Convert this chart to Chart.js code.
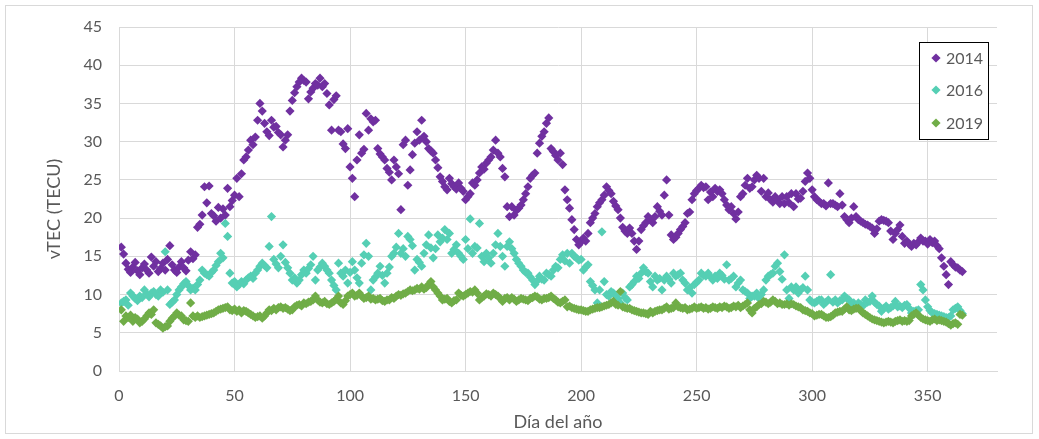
<!DOCTYPE html>
<html>
<head>
<meta charset="utf-8">
<script src="https://cdn.jsdelivr.net/npm/chart.js@4"></script>
<style>
html,body{margin:0;padding:0;background:#fff;}
#wrap{width:1039px;height:439px;}
</style>
</head>
<body>
<div id="wrap"><canvas id="c" width="1039" height="439"></canvas></div>
<script>
const seriesNames = ["2014", "2016", "2019"];
const seriesColors = ["#7030A0", "#55CFB4", "#70AD47"];
const xTicks = [0, 50, 100, 150, 200, 250, 300, 350];
const yTicks = [0, 5, 10, 15, 20, 25, 30, 35, 40, 45];
const xTitle = "Día del año";
const yTitle = "vTEC (TECU)";

const vtec2014 = [
16.2,15.3,14.1,13.3,12.9,13.6,14.2,13.1,12.6,13.5,
14.0,13.2,12.8,14.9,13.7,14.3,13.0,13.4,14.1,13.2,
14.6,16.4,13.9,13.2,12.9,13.6,14.3,13.5,13.1,14.5,
15.6,14.7,15.2,18.8,19.2,20.4,24.1,22.0,24.2,20.6,
20.3,19.6,21.4,20.0,21.2,20.4,23.9,21.5,22.3,23.0,
25.2,22.8,25.8,27.6,28.0,28.9,30.2,29.6,30.6,32.8,
35.0,34.0,32.4,31.3,30.8,32.8,31.9,32.0,31.2,30.9,
29.3,30.2,30.9,34.0,35.4,36.4,37.2,37.8,38.3,38.0,
37.8,35.6,36.5,37.0,37.6,37.4,38.3,37.2,37.6,36.3,
34.8,31.5,35.5,36.0,31.5,31.3,29.7,29.1,31.7,26.7,
25.2,22.8,27.6,30.9,28.5,29.0,33.7,31.5,33.0,32.6,
32.8,29.1,28.4,28.0,27.6,26.5,26.0,25.0,27.6,26.7,
25.8,21.1,29.6,30.2,24.3,26.3,28.3,29.8,31.3,30.2,
32.8,30.7,30.0,29.1,28.8,28.5,27.6,26.6,25.4,24.8,
24.1,23.7,25.2,24.5,24.1,23.8,24.6,23.9,23.5,22.4,
22.8,23.2,24.6,24.3,25.0,25.9,26.7,26.4,27.2,27.6,
28.0,28.9,30.2,28.5,28.0,26.5,25.4,21.5,20.2,21.5,
20.4,21.0,21.3,21.7,22.4,23.2,24.1,25.2,25.6,25.9,
28.5,29.8,30.7,31.3,32.4,33.1,29.1,28.7,28.2,27.6,
28.5,27.0,23.7,22.4,21.3,19.8,18.5,17.2,16.5,16.9,
17.4,17.0,18.0,19.4,20.0,20.6,21.5,22.0,22.4,23.0,
24.1,23.6,23.2,22.2,21.6,21.1,20.0,18.8,18.3,18.0,
18.7,18.0,17.0,15.9,17.0,18.5,19.0,19.4,20.2,19.8,
19.4,20.2,21.5,20.9,20.4,23.0,25.0,20.4,17.8,17.2,
17.5,18.0,18.5,18.9,19.4,20.6,20.8,22.4,23.2,23.6,
23.9,24.3,24.0,24.1,22.4,23.4,22.8,23.9,23.5,23.7,
23.2,22.4,21.7,21.1,21.5,20.6,19.9,20.8,22.8,23.2,
24.3,25.2,23.9,24.1,25.0,25.6,25.2,23.5,25.2,22.8,
23.3,22.4,22.1,22.8,22.4,21.9,22.8,21.9,22.8,22.0,
23.2,21.5,23.2,22.5,22.6,23.5,24.8,25.9,25.2,23.7,
22.8,22.4,22.2,21.9,21.9,21.6,24.6,21.9,21.9,21.7,
21.5,23.2,21.7,20.2,19.8,19.4,20.0,21.5,20.2,19.8,
19.6,19.4,19.2,19.1,18.9,18.7,18.0,18.6,19.6,19.8,
19.7,19.6,19.4,18.3,17.2,18.0,18.5,19.1,17.6,16.7,
17.0,16.6,16.3,16.7,16.5,16.9,17.4,17.0,17.0,16.6,
17.2,16.8,17.0,16.4,16.0,14.8,13.7,12.6,11.3,14.3,
13.9,13.6,13.5,13.2,13.0
];

const vtec2016 = [
8.9,9.1,9.3,8.6,10.2,9.8,9.5,9.2,9.8,9.6,
10.6,10.1,9.7,10.2,10.4,10.0,9.8,10.6,10.3,15.6,
10.6,8.7,9.0,9.3,10.0,10.6,11.0,11.4,11.7,11.2,
10.6,10.8,10.6,11.3,11.9,13.2,12.8,12.6,12.4,12.9,
13.2,13.8,14.3,15.4,14.8,19.3,17.6,12.8,11.5,11.7,
11.0,11.3,11.7,11.4,11.9,12.2,12.4,12.1,12.8,13.2,
13.7,14.1,13.8,13.5,16.3,20.2,14.6,14.0,13.5,15.0,
16.5,14.2,13.5,12.8,11.9,12.2,11.5,11.9,12.6,13.2,
12.8,13.4,13.9,15.0,11.9,13.2,13.6,14.1,13.7,13.2,
12.8,11.9,11.2,10.6,14.1,12.8,12.4,13.2,11.5,12.9,
14.3,13.2,12.2,11.5,14.1,15.2,16.7,15.0,10.6,11.9,
12.3,12.8,13.7,12.5,11.5,12.8,13.6,15.0,15.4,16.2,
18.0,15.4,16.0,15.0,17.6,17.2,16.4,13.2,14.6,14.2,
13.7,15.4,16.5,17.8,16.1,14.8,16.0,17.8,16.9,17.4,
18.5,17.2,18.0,15.4,15.9,16.5,15.4,15.0,14.6,17.2,
16.0,19.9,15.4,16.3,16.1,19.3,15.0,14.3,15.4,14.8,
14.1,15.4,16.5,18.0,16.3,15.0,13.7,16.3,16.9,16.0,
15.4,14.6,14.1,13.7,13.2,12.9,12.8,12.3,11.9,11.3,
11.8,12.4,12.0,11.9,12.8,12.6,12.4,13.2,13.7,13.5,
14.6,15.2,14.4,15.4,14.1,15.4,15.0,14.8,14.5,14.6,
13.2,13.6,13.9,11.7,11.2,10.6,8.9,10.6,18.2,11.7,
10.0,9.8,10.4,10.2,9.8,9.5,8.9,10.2,9.6,9.3,
11.0,11.3,11.7,12.4,12.1,12.8,13.5,13.0,12.8,11.7,
11.0,12.4,11.9,12.1,10.6,11.9,12.4,12.0,11.5,12.8,
12.4,12.6,12.8,11.9,11.5,10.6,10.9,10.2,11.3,11.6,
11.9,12.8,12.5,12.4,12.8,12.3,11.9,12.4,12.1,12.8,
12.5,12.0,13.9,11.9,12.1,12.4,11.0,11.5,11.9,10.6,
10.4,10.2,9.5,9.8,9.8,10.2,9.5,10.0,10.6,11.9,
12.4,12.6,12.8,13.7,14.1,13.0,12.0,15.2,10.6,9.5,
11.0,10.6,11.0,10.2,10.6,10.9,12.4,10.6,9.3,9.0,
8.9,9.1,9.3,9.3,8.7,9.0,9.3,12.6,9.0,9.3,
8.9,9.2,9.3,9.8,9.5,9.3,8.7,8.9,8.5,8.9,
8.7,8.5,9.3,9.0,9.1,9.8,9.0,8.7,8.5,7.8,
8.2,8.5,8.1,8.3,8.5,9.1,8.4,8.5,8.3,8.6,
8.7,8.2,7.6,7.8,7.9,8.0,11.3,10.6,9.3,8.4,
7.9,7.6,7.5,7.4,7.3,7.2,7.1,7.0,7.0,7.2,
8.0,8.2,8.4,7.9,7.5
];

const vtec2019 = [
8.0,6.5,7.2,7.0,7.3,6.5,7.0,6.8,6.3,6.5,
6.8,7.2,7.6,7.4,8.0,6.3,6.1,5.9,5.6,5.8,
5.9,6.5,6.9,7.2,7.6,7.3,7.2,6.7,6.6,6.5,
8.9,7.2,7.0,7.2,7.0,7.1,7.2,7.3,7.4,7.5,
7.6,7.8,8.0,8.1,8.2,8.3,8.4,8.0,7.9,8.1,
7.8,8.0,7.6,7.9,7.8,7.6,7.4,7.2,7.0,7.1,
7.2,6.9,7.2,7.6,8.0,7.9,8.2,8.0,8.3,8.4,
8.2,8.3,8.1,7.9,8.0,8.4,8.6,8.7,8.5,8.9,
8.8,9.0,9.1,9.3,9.8,9.3,9.0,8.9,9.1,8.8,
8.7,8.9,9.1,9.4,9.8,8.9,8.7,9.2,9.8,10.0,
10.2,9.8,9.9,10.2,9.8,9.5,9.6,9.8,9.4,9.5,
9.3,9.4,9.5,9.2,9.1,9.3,9.3,9.6,9.5,9.8,
10.0,9.9,10.1,10.2,10.4,10.6,10.5,10.6,10.8,10.7,
11.0,10.7,10.9,11.3,11.7,11.0,10.6,10.2,9.8,9.3,
9.4,9.5,9.1,8.9,9.2,9.3,10.2,9.9,9.8,10.0,
10.2,10.4,10.3,10.6,10.2,9.3,9.6,9.8,10.1,10.0,
9.8,10.2,10.0,9.8,9.5,9.1,9.5,9.6,9.3,9.6,
9.4,9.1,9.3,9.5,9.4,9.3,9.2,9.5,9.6,9.8,
9.7,9.4,9.3,9.5,9.5,9.6,9.8,9.5,9.3,9.0,
8.9,9.1,9.3,8.4,8.5,8.3,8.2,8.1,8.0,8.0,
7.9,7.8,7.8,8.0,8.1,8.2,8.3,8.3,8.4,8.5,
8.6,8.7,8.9,9.1,8.7,8.6,10.4,8.4,8.3,8.2,
8.2,8.0,7.9,7.8,7.7,7.6,7.6,7.5,7.4,7.8,
7.6,7.8,7.9,8.0,8.0,8.2,8.4,8.1,8.2,8.3,
8.9,8.4,8.3,8.2,8.3,8.0,8.1,8.2,8.4,8.2,
8.3,8.4,8.2,8.3,8.1,8.2,8.4,8.3,8.2,8.4,
8.3,8.5,8.4,8.2,8.3,8.5,8.4,8.6,8.3,8.5,
8.7,8.9,8.0,7.6,8.2,8.4,8.7,8.8,9.1,9.0,
8.8,9.0,9.3,9.1,8.8,8.9,8.7,8.7,8.8,8.6,
8.8,8.7,8.5,8.4,8.3,8.0,7.9,7.8,7.6,7.5,
7.2,7.3,7.4,7.4,7.2,7.0,7.0,7.1,7.3,7.6,
7.7,7.8,7.8,8.1,8.4,8.0,7.9,8.1,8.2,8.2,
7.9,7.6,7.4,7.2,7.0,6.8,6.7,6.6,6.5,6.4,
6.3,6.4,6.5,6.4,6.3,6.5,6.6,6.7,6.5,6.6,
6.5,6.6,7.2,7.4,7.6,7.3,7.0,6.8,6.7,6.6,
6.5,6.7,6.8,6.6,6.7,6.6,6.5,6.4,6.2,6.0,
6.2,6.3,6.1,7.4,7.3
];

const seriesValues = [vtec2014, vtec2016, vtec2019];
const FONT = "Lato, 'Open Sans', sans-serif";
const TEXT = "#595959";
const GRID = "#d9d9d9";

const datasets = seriesValues.map((vals, s) => ({
  label: seriesNames[s],
  data: vals.map((v, i) => ({ x: i + 1, y: v })),
  backgroundColor: seriesColors[s],
  borderColor: seriesColors[s],
  borderWidth: 0,
  pointStyle: 'rectRot',
  pointRadius: 4.6,
  pointHoverRadius: 4.6,
  showLine: false,
  order: 3 - s
}));

const decor = {
  id: 'decor',
  beforeDraw(chart) {
    const ctx = chart.ctx;
    ctx.save();
    ctx.fillStyle = '#fff';
    ctx.fillRect(0, 0, chart.width, chart.height);
    ctx.strokeStyle = GRID;
    ctx.lineWidth = 1;
    ctx.strokeRect(5.5, 5.5, 1027, 428);
    ctx.restore();
  },
  afterDraw(chart) {
    const ctx = chart.ctx;
    ctx.save();
    // y axis title
    ctx.fillStyle = TEXT;
    ctx.font = "18px " + FONT;
    ctx.textAlign = 'center';
    ctx.textBaseline = 'middle';
    ctx.translate(54, 209);
    ctx.rotate(-Math.PI / 2);
    ctx.fillText(yTitle, 0, 0);
    ctx.restore();
    // legend box
    ctx.save();
    ctx.fillStyle = '#fff';
    ctx.fillRect(919.5, 42.5, 69, 97);
    ctx.strokeStyle = '#000';
    ctx.lineWidth = 1;
    ctx.strokeRect(919.5, 42.5, 69, 97);
    const rows = [58, 90, 123];
    seriesNames.forEach((name, i) => {
      const cx = 936, cy = rows[i], r = 4.6;
      ctx.fillStyle = seriesColors[i];
      ctx.beginPath();
      ctx.moveTo(cx, cy - r); ctx.lineTo(cx + r, cy); ctx.lineTo(cx, cy + r); ctx.lineTo(cx - r, cy);
      ctx.closePath(); ctx.fill();
      ctx.fillStyle = TEXT;
      ctx.font = "16px " + FONT;
      ctx.textAlign = 'left';
      ctx.textBaseline = 'middle';
      ctx.fillText(name, 946, cy + 1);
    });
    ctx.restore();
  }
};

new Chart(document.getElementById('c'), {
  type: 'scatter',
  data: { datasets },
  options: {
    responsive: false,
    animation: false,
    events: [],
    layout: { padding: { top: 27, right: 42, left: 0, bottom: 0 } },
    plugins: { legend: { display: false }, tooltip: { enabled: false } },
    scales: {
      x: {
        type: 'linear', min: 0, max: 380,
        afterBuildTicks(scale) { scale.ticks = xTicks.map(v => ({ value: v })); },
        afterFit(scale) { scale.height = 68; },
        grid: { color: GRID, lineWidth: 1, drawTicks: false },
        border: { display: true, color: GRID },
        ticks: { color: TEXT, font: { family: FONT, size: 16 }, padding: 15, maxRotation: 0 },
        title: { display: true, text: xTitle, color: TEXT, font: { family: FONT, size: 18 }, padding: { top: 0, bottom: 6 } }
      },
      y: {
        type: 'linear', min: 0, max: 45,
        afterBuildTicks(scale) { scale.ticks = yTicks.map(v => ({ value: v })); },
        afterFit(scale) { scale.width = 119; },
        grid: { color: GRID, lineWidth: 1, drawTicks: false },
        border: { display: true, color: GRID },
        ticks: { color: TEXT, font: { family: FONT, size: 16 }, padding: 17 }
      }
    }
  },
  plugins: [decor]
});
</script>
</body>
</html>
